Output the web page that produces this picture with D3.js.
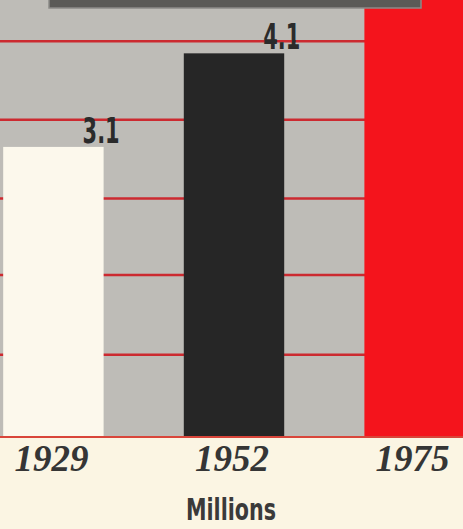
<!DOCTYPE html>
<html>
<head>
<meta charset="utf-8">
<script src="https://cdn.jsdelivr.net/npm/d3@7"></script>
<style>
  html, body { margin: 0; padding: 0; background: #fbf5e3; }
  svg { display: block; }
  .val { font-family: "Liberation Sans Narrow", "DejaVu Sans Condensed", sans-serif; font-weight: bold; font-size: 35px; fill: #2b2b2b; }
  .year { font-family: "Liberation Serif", "DejaVu Serif", serif; font-style: italic; font-weight: bold; font-size: 37px; fill: #353535; }
  .unit { font-family: "Liberation Sans Narrow", "DejaVu Sans Condensed", sans-serif; font-weight: bold; font-size: 30px; fill: #3a3a3a; }
</style>
</head>
<body>
<div id="chart"></div>
<script>
// years and values (millions)
var years = ['1929', '1952', '1975'];
var values = [3.1, 4.1, 5.4];       // 1975 bar runs off the top, value guessed
var labels = ['3.1', '4.1', ''];
// red rule lines behind the bars (in value units)
var gridValues = [0.88, 1.73, 2.55, 3.39, 4.23];

var W = 463, H = 529;
var baseY = 437;

var colors = ['#fcf8ec', '#262626', '#f4141c'];

var svg = d3.select('#chart').append('svg')
	.attr('width', W)
	.attr('height', H);

var x = d3.scaleBand()
	.domain(years)
	.range([-77, 545])
	.padding(0.444);

var y = d3.scaleLinear()
	.domain([0, 4.67])
	.range([baseY, 0]);

// gray panel
svg.append('rect')
	.attr('x', 0).attr('y', 0)
	.attr('width', W).attr('height', baseY)
	.style('fill', '#bebcb7');

// grid rules
svg.selectAll('line.grid')
	.data(gridValues)
	.enter().append('line')
	.classed('grid', true)
	.attr('x1', 0).attr('x2', W)
	.attr('y1', function(d){ return y(d); })
	.attr('y2', function(d){ return y(d); })
	.style('stroke', '#cc2a30')
	.style('stroke-width', 2.5);

// bars
svg.selectAll('rect.bar')
	.data(values)
	.enter().append('rect')
	.classed('bar', true)
	.attr('x', function(d, i){ return x(years[i]); })
	.attr('width', x.bandwidth())
	.attr('y', function(d){ return y(d); })
	.attr('height', function(d){ return baseY - y(d); })
	.style('fill', function(d, i){ return colors[i]; });

// baseline
svg.append('line')
	.attr('x1', 0).attr('x2', W)
	.attr('y1', baseY).attr('y2', baseY)
	.style('stroke', '#d9453a')
	.style('stroke-width', 2);

// box at the top (cut off)
svg.append('rect')
	.attr('x', 49).attr('y', -20)
	.attr('width', 372).attr('height', 28)
	.style('fill', '#5b5a57')
	.style('stroke', '#8c8b88')
	.style('stroke-width', 1.5);

// value labels
svg.selectAll('text.val')
	.data(values)
	.enter().append('text')
	.classed('val', true)
	.attr('x', function(d, i){ return x(years[i]) + x.bandwidth() + 16; })
	.attr('y', function(d){ return y(d) - 4; })
	.attr('text-anchor', 'end')
	.attr('textLength', 37)
	.attr('lengthAdjust', 'spacingAndGlyphs')
	.text(function(d, i){ return labels[i]; });

// year labels
svg.selectAll('text.year')
	.data(years)
	.enter().append('text')
	.classed('year', true)
	.attr('x', function(d){ return x(d) + x.bandwidth() / 2 - 2; })
	.attr('y', 471)
	.attr('text-anchor', 'middle')
	.text(function(d){ return d; });

svg.append('text')
	.classed('unit', true)
	.attr('x', 231)
	.attr('y', 520)
	.attr('text-anchor', 'middle')
	.attr('textLength', 90)
	.attr('lengthAdjust', 'spacingAndGlyphs')
	.text('Millions');
</script>
</body>
</html>
